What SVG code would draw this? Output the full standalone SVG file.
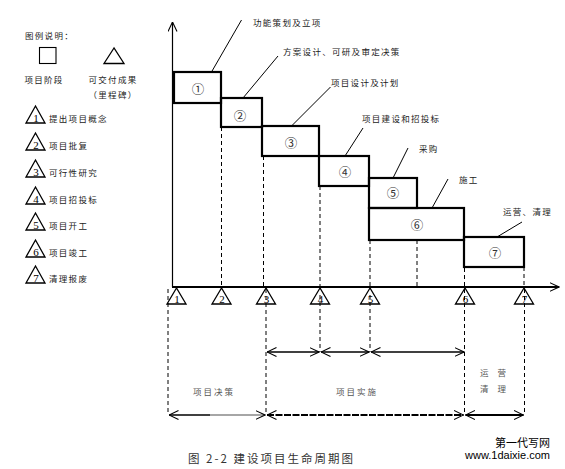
<svg xmlns="http://www.w3.org/2000/svg" width="565" height="469" viewBox="0 0 565 469">
<style>
.t{font-family:"Noto Sans CJK SC","Liberation Serif",serif;font-size:8.5px;letter-spacing:1.3px;fill:#222}
.lb{font-family:"Noto Sans CJK SC",serif;font-size:8.5px;letter-spacing:2px;fill:#555}
.cn{font-family:"Noto Sans CJK SC",serif;font-size:12.5px;fill:#333;text-anchor:middle}
.num{font-family:"Liberation Serif",serif;font-size:11px;fill:#000;text-anchor:middle}
.box{fill:none;stroke:#000;stroke-width:2.2}
.tri{fill:none;stroke:#000;stroke-width:1.3}
.ax{stroke:#000;stroke-width:1.2;fill:none}
.axh{stroke:#000;stroke-width:2.2;fill:none}
.ld{stroke:#000;stroke-width:1;fill:none}
.ds{stroke:#000;stroke-width:1;stroke-dasharray:4 3;fill:none}
.ar{stroke:#000;stroke-width:1.6;fill:none}
</style>
<defs>
<marker id="ah" viewBox="0 0 10 10" refX="9.5" refY="5" markerWidth="10" markerHeight="10" markerUnits="userSpaceOnUse" orient="auto-start-reverse">
<path d="M0,0.5 L9.5,5 L0,9.5" fill="none" stroke="#000" stroke-width="1.1"/>
</marker>
</defs>
<rect width="565" height="469" fill="#fff"/>

<g id="legend">
<text class="t" x="25" y="39">图例说明：</text>
<rect x="39.5" y="47.5" width="16.5" height="16" fill="none" stroke="#000" stroke-width="1.1"/>
<path d="M114,48 L104,63.5 L124,63.5 Z" class="tri"/>
<text class="t" x="44" y="83" text-anchor="middle">项目阶段</text>
<text class="t" x="113" y="83" text-anchor="middle">可交付成果</text>
<text class="t" x="113" y="98" text-anchor="middle">（里程碑）</text>
<g id="leg1"><path d="M35.5,106 L26,123 L45,123 Z" class="tri"/><text class="num" x="36" y="121.5">1</text><text class="t" x="49" y="122">提出项目概念</text></g>
<g id="leg2"><path d="M35.5,133 L26,150 L45,150 Z" class="tri"/><text class="num" x="36" y="148.5">2</text><text class="t" x="49" y="149">项目批复</text></g>
<g id="leg3"><path d="M35.5,160 L26,177 L45,177 Z" class="tri"/><text class="num" x="36" y="175.5">3</text><text class="t" x="49" y="176">可行性研究</text></g>
<g id="leg4"><path d="M35.5,187 L26,204 L45,204 Z" class="tri"/><text class="num" x="36" y="202.5">4</text><text class="t" x="49" y="203">项目招投标</text></g>
<g id="leg5"><path d="M35.5,213 L26,230 L45,230 Z" class="tri"/><text class="num" x="36" y="228.5">5</text><text class="t" x="49" y="229">项目开工</text></g>
<g id="leg6"><path d="M35.5,240 L26,257 L45,257 Z" class="tri"/><text class="num" x="36" y="255.5">6</text><text class="t" x="49" y="256">项目竣工</text></g>
<g id="leg7"><path d="M35.5,266 L26,283 L45,283 Z" class="tri"/><text class="num" x="36" y="281.5">7</text><text class="t" x="49" y="282">清理报废</text></g>
</g>

<g id="axes">
<line class="ax" x1="172.5" y1="287" x2="172.5" y2="22" marker-end="url(#ah)"/>
<line class="axh" x1="172" y1="287" x2="559" y2="287" marker-end="url(#ah)"/>
</g>

<g id="phase1"><rect class="box" x="174" y="72" width="47" height="31"/><text class="cn" x="198" y="93.5">①</text></g>
<g id="phase2"><rect class="box" x="221" y="98" width="41" height="29"/><text class="cn" x="240" y="120.5">②</text></g>
<g id="phase3"><rect class="box" x="262" y="126" width="57" height="30"/><text class="cn" x="291" y="148">③</text></g>
<g id="phase4"><rect class="box" x="319" y="156" width="50" height="30"/><text class="cn" x="345" y="177">④</text></g>
<g id="phase5"><rect class="box" x="369" y="178" width="48" height="30"/><text class="cn" x="393" y="198">⑤</text></g>
<g id="phase6"><rect class="box" x="369" y="208" width="95" height="32"/><text class="cn" x="417" y="230">⑥</text></g>
<g id="phase7"><rect class="box" x="464" y="237" width="60" height="30"/><text class="cn" x="495" y="258">⑦</text></g>

<g id="labels">
<text class="t" x="253" y="26">功能策划及立项</text>
<text class="t" x="283" y="55">方案设计、可研及审定决策</text>
<text class="t" x="331" y="86">项目设计及计划</text>
<text class="t" x="362" y="122">项目建设和招投标</text>
<text class="t" x="419" y="152">采购</text>
<text class="t" x="459" y="183">施工</text>
<text class="t" x="503" y="215">运营、清理</text>
<text class="lb" x="193" y="395">项目决策</text>
<text class="lb" x="336" y="395">项目实施</text>
<text class="lb" x="480" y="376" style="letter-spacing:3.5px">运 营</text>
<text class="lb" x="480" y="392" style="letter-spacing:3.5px">清 理</text>
</g>

<g id="milestones">
<g id="m1"><path d="M176.5,288 L167,304 L186,304 Z" class="tri"/><text class="num" x="177" y="302.5">1</text></g>
<g id="m2"><path d="M221.5,288 L212,304 L231,304 Z" class="tri"/><text class="num" x="222" y="302.5">2</text></g>
<g id="m3"><path d="M266,288 L256.5,304 L275.5,304 Z" class="tri"/><text class="num" x="266.5" y="302.5">3</text></g>
<g id="m4"><path d="M320,288 L310.5,304 L329.5,304 Z" class="tri"/><text class="num" x="320.5" y="302.5">4</text></g>
<g id="m5"><path d="M370,288 L360.5,304 L379.5,304 Z" class="tri"/><text class="num" x="370.5" y="302.5">5</text></g>
<g id="m6"><path d="M465,288 L455.5,304 L474.5,304 Z" class="tri"/><text class="num" x="465.5" y="302.5">6</text></g>
<g id="m7"><path d="M524,288 L514.5,304 L533.5,304 Z" class="tri"/><text class="num" x="524.5" y="302.5">7</text></g>
</g>

<g id="connectors">
<line class="ld" x1="241.5" y1="20" x2="211.5" y2="72"/>
<line class="ld" x1="278" y1="56" x2="243" y2="98"/>
<line class="ld" x1="330.5" y1="87" x2="291.5" y2="126"/>
<line class="ld" x1="363" y1="128" x2="345" y2="156"/>
<line class="ld" x1="408" y1="148" x2="393" y2="178"/>
<line class="ld" x1="448" y1="179" x2="432" y2="208"/>
<line class="ld" x1="522" y1="222" x2="497" y2="237"/>

<line class="ds" x1="221.5" y1="127" x2="221.5" y2="287"/>
<line class="ds" x1="263.5" y1="156" x2="263.5" y2="287"/>
<line class="ds" x1="320" y1="186" x2="320" y2="287"/>
<line class="ds" x1="370" y1="240" x2="370" y2="287"/>
<line class="ds" x1="417" y1="240" x2="417" y2="287"/>
<line class="ds" x1="464.5" y1="240" x2="464.5" y2="287"/>
<line class="ds" x1="524" y1="267" x2="524" y2="287"/>

<line class="ds" x1="168" y1="289" x2="168" y2="415"/>
<line class="ds" x1="266" y1="289" x2="266" y2="415"/>
<line class="ds" x1="320" y1="295" x2="320" y2="352"/>
<line class="ds" x1="370" y1="295" x2="370" y2="352"/>
<line class="ds" x1="464.5" y1="289" x2="464.5" y2="415"/>
<line class="ds" x1="524.5" y1="289" x2="524.5" y2="415"/>

<line class="ar" x1="267" y1="352" x2="319" y2="352" marker-start="url(#ah)" marker-end="url(#ah)"/>
<line class="ar" x1="321" y1="352" x2="369" y2="352" marker-start="url(#ah)" marker-end="url(#ah)"/>
<line class="ar" x1="371" y1="352" x2="464" y2="352" marker-start="url(#ah)" marker-end="url(#ah)"/>

<line x1="169" y1="415" x2="210" y2="415" stroke="#000" stroke-width="1.3" marker-start="url(#ah)"/>
<line x1="210" y1="415" x2="265" y2="415" stroke="#888" stroke-width="1.6" marker-end="url(#ah)"/>
<line x1="267" y1="415" x2="463.5" y2="415" stroke="#000" stroke-width="2.2" stroke-dasharray="7 1.5" marker-start="url(#ah)" marker-end="url(#ah)"/>
<line x1="465.5" y1="415" x2="523.5" y2="415" stroke="#000" stroke-width="2.2" marker-start="url(#ah)" marker-end="url(#ah)"/>
</g>

<g id="caption">
<text x="188" y="463" style="font-family:'Noto Sans CJK SC',sans-serif;font-size:11.5px;letter-spacing:2px;fill:#333">图 2-2 建设项目生命周期图</text>
<text x="550" y="447" text-anchor="end" style="font-family:'Noto Sans CJK SC',sans-serif;font-size:11px;fill:#000">第一代写网</text>
<text x="550" y="459" text-anchor="end" style="font-family:'Liberation Sans',sans-serif;font-size:11px;fill:#000">www.1daixie.com</text>
</g>
</svg>
